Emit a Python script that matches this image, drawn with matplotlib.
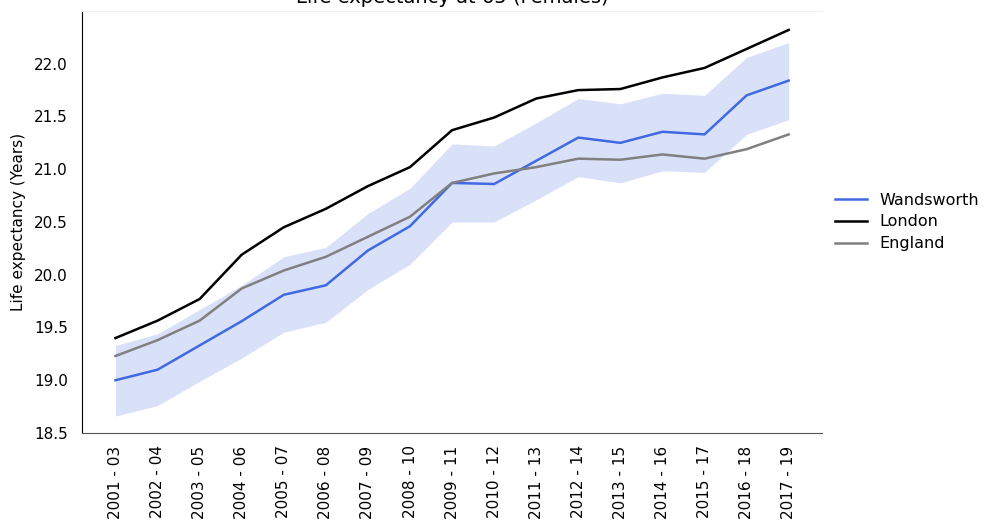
import numpy as np
import matplotlib.pyplot as plt

periods = ["2001 - 03", "2002 - 04", "2003 - 05", "2004 - 06", "2005 - 07", "2006 - 08",
           "2007 - 09", "2008 - 10", "2009 - 11", "2010 - 12", "2011 - 13", "2012 - 14",
           "2013 - 15", "2014 - 16", "2015 - 17", "2016 - 18", "2017 - 19"]

wandsworth = [19.00, 19.10, 19.33, 19.56, 19.81, 19.90, 20.23, 20.46, 20.87, 20.86,
              21.08, 21.30, 21.25, 21.355, 21.33, 21.70, 21.84]
wand_upper = [19.33, 19.44, 19.67, 19.90, 20.17, 20.26, 20.58, 20.82, 21.24, 21.22,
              21.44, 21.67, 21.62, 21.72, 21.70, 22.06, 22.20]
wand_lower = [18.66, 18.76, 18.99, 19.21, 19.455, 19.55, 19.86, 20.10, 20.50, 20.50,
              20.71, 20.93, 20.87, 20.985, 20.97, 21.33, 21.47]
london = [19.40, 19.565, 19.77, 20.19, 20.45, 20.625, 20.84, 21.02, 21.37, 21.49,
          21.67, 21.75, 21.76, 21.87, 21.96, 22.14, 22.32]
england = [19.23, 19.38, 19.565, 19.87, 20.04, 20.17, 20.36, 20.55, 20.87, 20.96,
           21.02, 21.10, 21.09, 21.14, 21.10, 21.19, 21.33]

fig = plt.figure(figsize=(9.86, 5.22), dpi=100)
ax = fig.add_axes([0.083, 0.1705, 0.751, 0.8085])

x = np.arange(len(periods))
ax.fill_between(x, wand_lower, wand_upper, color='#4169E1', alpha=0.2, linewidth=0)
ax.plot(x, wandsworth, color='#4169E1', linewidth=1.8, label='Wandsworth')
ax.plot(x, london, color='black', linewidth=1.8, label='London')
ax.plot(x, england, color='grey', linewidth=1.8, label='England')

ax.set_xticks(x)
ax.set_xticklabels(periods, rotation=90, fontsize=11)
ax.set_ylim(18.5, 22.5)
ax.set_yticks([18.5, 19.0, 19.5, 20.0, 20.5, 21.0, 21.5, 22.0])
ax.set_yticklabels(["18.5", "19.0", "19.5", "20.0", "20.5", "21.0", "21.5", "22.0"], fontsize=11)
ax.tick_params(axis='y', length=0, pad=10)
ax.tick_params(axis='x', length=0, pad=9)
ax.set_ylabel("Life expectancy (Years)", fontsize=11, labelpad=6)
ax.set_title("Life expectancy at 65 (Females)", fontsize=14)

ax.spines['left'].set_color('black')
ax.spines['bottom'].set_color('#555555')
ax.spines['top'].set_color('#f2f2f2')
ax.spines['right'].set_visible(False)

ax.legend(loc='center left', bbox_to_anchor=(1.0, 0.5), frameon=False, fontsize=11.5,
          labelspacing=0.42, borderaxespad=0.4)

plt.savefig("out.png", dpi=100)
